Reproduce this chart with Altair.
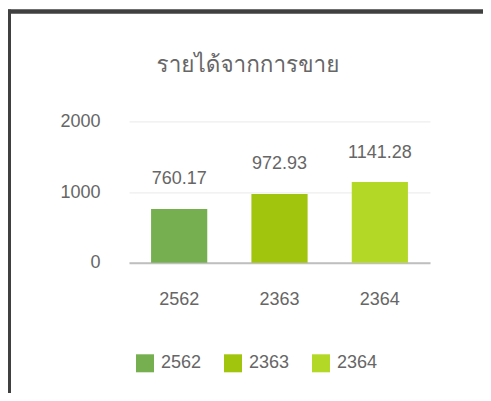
import altair as alt
import pandas as pd

years = ["2562", "2363", "2364"]
revenue = [760.17, 972.93, 1141.28]
bar_colors = ["#75AF50", "#A1C40D", "#B4D826"]
y_ticks = [0, 1000, 2000]
title_text = ["รายได้จากการขาย"]

df = pd.DataFrame({"year": years, "revenue": revenue})

W, H = 301, 141.4
PL, PT = 121, 113.3
TOTAL_W, TOTAL_H = 475, 385

text_color = "#666666"
num_font = "Liberation Sans"

x_enc = alt.X(
    "year:N",
    sort=years,
    scale=alt.Scale(paddingInner=0.44, paddingOuter=0.22),
    axis=alt.Axis(
        title=None, labelAngle=0, ticks=False, labelPadding=28,
        domainColor="#BFBFBF", domainWidth=2,
        labelFontSize=18, labelColor=text_color, labelFont=num_font,
    ),
)
y_enc = alt.Y(
    "revenue:Q",
    scale=alt.Scale(domain=[0, 2000], nice=False),
    axis=alt.Axis(
        title=None, values=y_ticks, format="d", domain=False, ticks=False,
        labelPadding=29, gridColor="#EEEEEE", gridWidth=1.2,
        labelFontSize=18, labelColor=text_color, labelFont=num_font,
    ),
)

base = alt.Chart(df)

bars = base.mark_bar().encode(
    x=x_enc,
    y=y_enc,
    color=alt.Color(
        "year:N",
        sort=years,
        scale=alt.Scale(domain=years, range=bar_colors),
        legend=alt.Legend(
            title=None, orient="none", legendX=7, legendY=233,
            direction="horizontal", symbolType="square", symbolSize=324,
            symbolStrokeWidth=0, labelFontSize=18, labelColor=text_color,
            labelFont=num_font, labelOffset=7, columnPadding=22, padding=0,
        ),
    ),
)

labels = base.mark_text(
    baseline="alphabetic", dy=-24.5, fontSize=18, font=num_font, color=text_color
).encode(
    x=alt.X("year:N", sort=years),
    y="revenue:Q",
    text=alt.Text("revenue:Q", format=".2f"),
)

title = alt.Chart(pd.DataFrame({"t": title_text})).mark_text(
    align="center", baseline="alphabetic", fontSize=22.5,
    font="Loma, Garuda, Norasi, Noto Sans", fontWeight="lighter", color=text_color,
).encode(
    x=alt.value(240 - PL), y=alt.value(63.5 - PT), text="t:N"
)

frame_df = pd.DataFrame({"k": [0]})
top_border = alt.Chart(frame_df).mark_rule(color="#404040", strokeWidth=4.5).encode(
    x=alt.value(-PL), x2=alt.value(TOTAL_W - PL), y=alt.value(3.5 - PT)
)
left_border = alt.Chart(frame_df).mark_rule(color="#404040", strokeWidth=3).encode(
    x=alt.value(1.5 - PL), y=alt.value(1.5 - PT), y2=alt.value(TOTAL_H - PT)
)

chart = alt.layer(bars, labels, title, top_border, left_border).properties(
    width=W,
    height=H,
    padding={"left": PL, "top": PT, "right": TOTAL_W - PL - W, "bottom": TOTAL_H - PT - H},
    autosize=alt.AutoSizeParams(type="none"),
).configure_view(stroke=None)

chart.save("out.html", embed_options={"renderer": "svg", "actions": False})
